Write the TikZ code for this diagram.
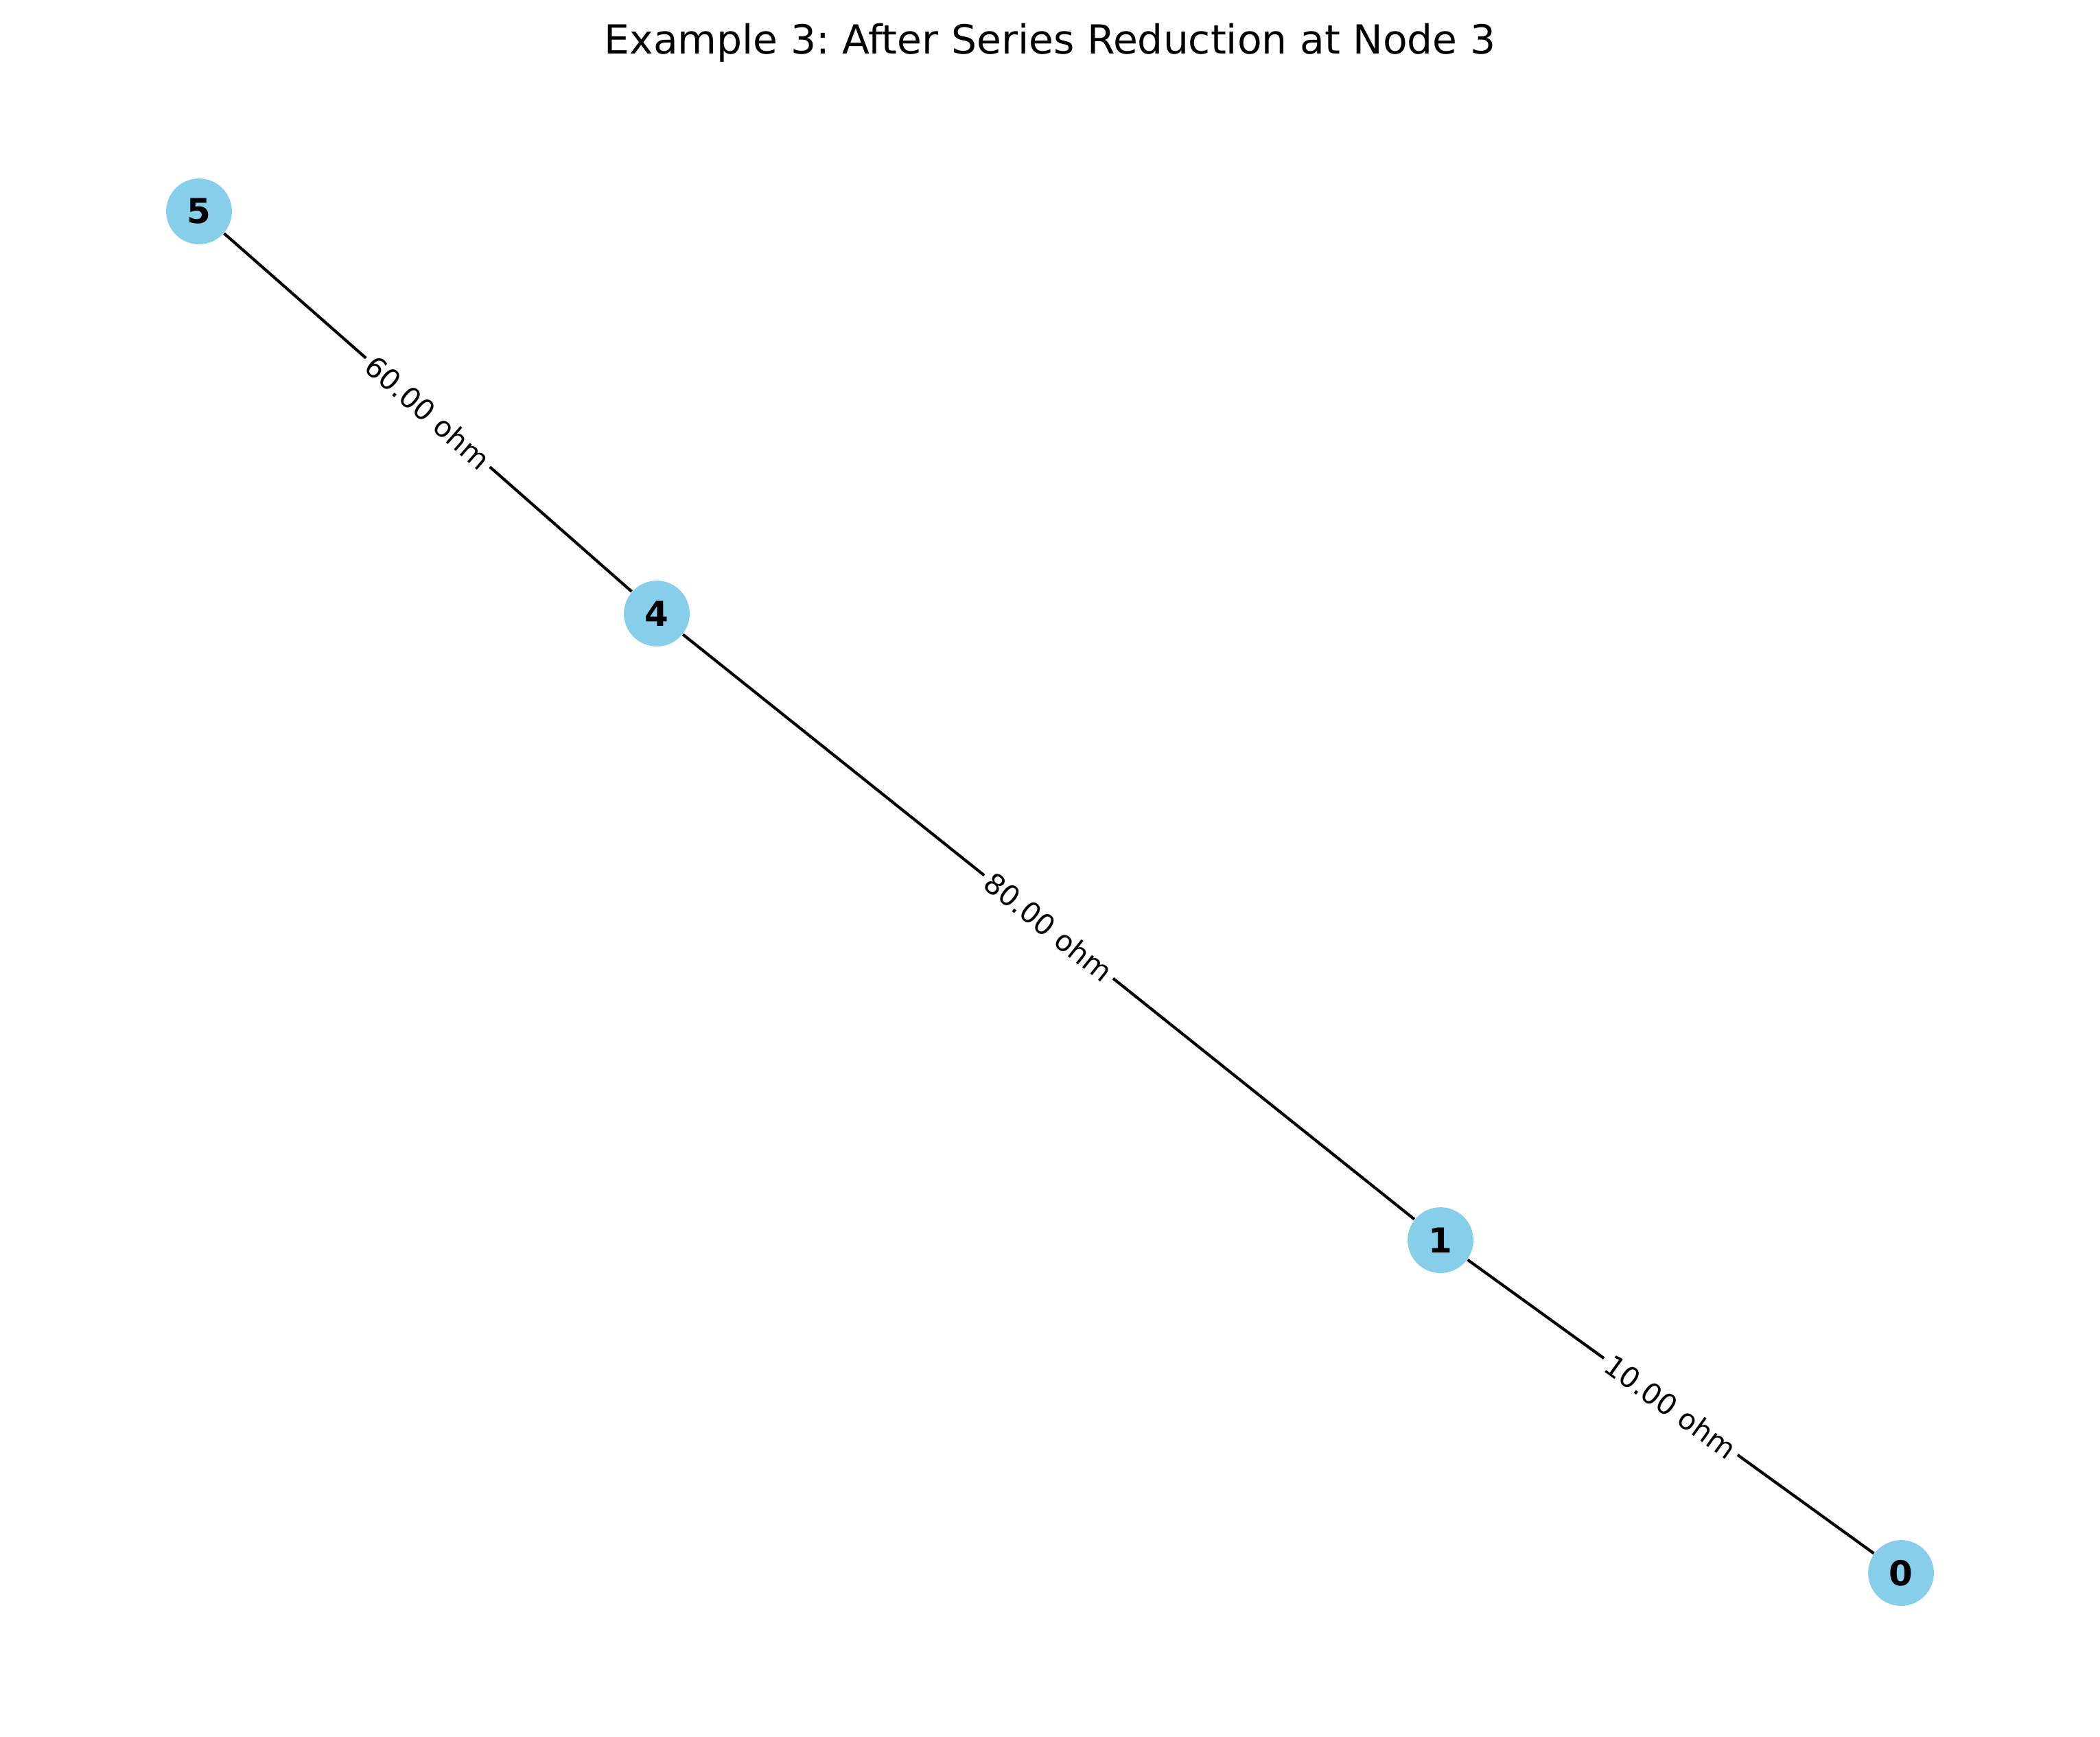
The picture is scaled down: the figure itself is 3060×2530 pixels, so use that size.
\documentclass[tikz,border=0pt]{standalone}
\usepackage{fontspec}
\setmainfont{DejaVu Sans}
\usetikzlibrary{positioning}
\frenchspacing

\definecolor{skyblue}{HTML}{87CEEB}

\begin{document}
\begin{tikzpicture}[x=0.24pt, y=-0.24pt,
			vertex/.style={circle, fill=skyblue, minimum size=23pt, inner sep=0, font=\fontsize{12}{14}\selectfont\bfseries},
			edge/.style={line width=1pt, black},
			weight/.style={fill=white, inner sep=1.8pt, sloped, font=\fontsize{10}{12}\selectfont},
			title/.style={anchor=base, inner sep=0, font=\fontsize{14}{17}\selectfont}]

			\useasboundingbox (0,0) rectangle (3060,2530);

			\node[title] (caption) at (1530,78) {Example 3: After Series Reduction at Node 3};

			\node[vertex] (n5) at (290,308) {5};
			\node[vertex] (n4) at (957,894) {4};
			\node[vertex] (n1) at (2099,1807) {1};
			\node[vertex] (n0) at (2770,2292) {0};

			\draw[edge] (n5) -- node[weight] {60.00 ohm} (n4);
			\draw[edge] (n4) -- node[weight] {80.00 ohm} (n1);
			\draw[edge] (n1) -- node[weight] {10.00 ohm} (n0);
		\end{tikzpicture}
\end{document}
